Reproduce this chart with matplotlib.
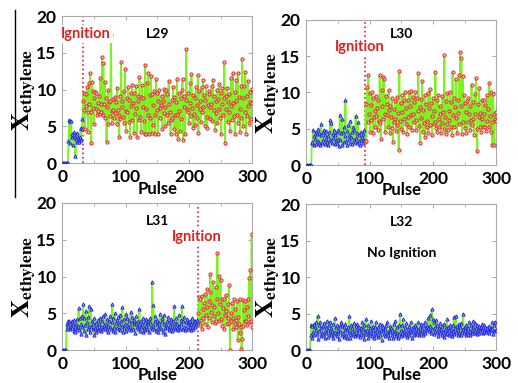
import numpy as np
import matplotlib
matplotlib.use("Agg")
import matplotlib.pyplot as plt
from matplotlib.lines import Line2D

plt.rcParams['font.family'] = ['Lato', 'DejaVu Sans']
plt.rcParams['font.weight'] = 'bold'
plt.rcParams['mathtext.fontset'] = 'stix'

# ---- data (X_ethylene per pulse) ----
l29_zero = 9
l29_vals = [3.0, 5.9, 5.8, 2.8, 5.7, 3.5, 4.0, 2.5, 3.8, 4.2, 3.6, 1.0, 3.3, 4.1, 2.9, 3.6, 3.2, 2.9, 3.5, 4.8, 3.1, 4.6, 6.0,
            8.5, 9.5, 7.2, 4.6, 9.4, 7.8, 10.3, 6.9, 4.3, 10.9,
            8.1, 12.3, 7.0, 2.7, 11.1, 7.5, 9.8, 5.3, 8.9, 9.7,
            7.4, 9.5, 6.6, 8.2, 7.1, 9.2, 6.7, 11.6, 6.9, 8.0,
            14.5, 6.6, 13.6, 8.0, 11.1, 6.2, 8.9, 2.9, 7.6, 9.9,
            5.3, 8.3, 6.4, 8.5, 17.4, 7.1, 5.4, 7.2, 8.7, 6.1,
            9.0, 6.8, 8.3, 5.3, 10.2, 7.2, 6.5, 3.6, 9.1, 6.0,
            13.7, 7.6, 8.4, 6.3, 9.8, 5.5, 12.8, 7.1, 4.4, 8.8,
            7.0, 10.3, 5.6, 8.6, 3.5, 9.5, 7.8, 10.6, 5.9, 8.2,
            4.1, 9.6, 6.7, 10.5, 7.5, 3.6, 9.2, 8.4, 5.9, 11.7,
            6.3, 9.0, 4.2, 10.6, 7.7, 8.9, 5.7, 3.9, 13.3, 7.3,
            4.0, 10.9, 6.5, 12.3, 3.9, 9.3, 6.2, 11.8, 4.1, 9.4,
            7.9, 5.2, 9.8, 6.6, 4.0, 11.4, 7.2, 9.6, 3.9, 8.4,
            10.0, 6.1, 7.5, 7.9, 9.2, 4.6, 8.5, 6.8, 10.1, 5.0,
            7.6, 10.0, 6.5, 9.4, 5.4, 11.2, 8.0, 7.0, 4.0, 5.9,
            8.6, 6.2, 10.4, 4.7, 9.0, 6.6, 3.9, 8.3, 11.5, 6.5,
            3.3, 9.5, 7.1, 4.4, 8.9, 6.0, 10.0, 11.5, 3.2, 9.1,
            7.7, 4.0, 8.6, 15.5, 7.3, 6.9, 9.6, 5.5, 8.2, 10.9,
            6.4, 12.1, 7.5, 4.8, 9.3, 6.7, 8.8, 5.2, 10.4, 7.9,
            6.2, 12.0, 4.1, 9.8, 7.4, 8.5, 5.6, 10.3, 6.9, 11.3,
            7.7, 9.3, 5.0, 8.6, 10.5, 6.3, 4.8, 7.9, 9.8, 9.4,
            6.0, 7.7, 8.1, 10.5, 5.7, 11.3, 7.2, 9.1, 4.5, 8.4,
            6.8, 9.9, 5.4, 8.7, 7.3, 10.8, 6.1, 9.6, 3.9, 8.0,
            10.2, 6.5, 8.9, 13.7, 2.8, 9.1, 7.4, 10.2, 5.6, 8.3,
            6.9, 9.4, 4.4, 11.6, 7.8, 5.9, 12.2, 8.2, 6.4, 9.7,
            3.9, 8.5, 11.3, 6.6, 12.3, 5.5, 9.0, 7.3, 4.3, 10.5,
            6.1, 14.1, 8.8, 5.0, 10.5, 7.0, 12.4, 3.9, 9.2, 6.4,
            11.2, 7.8, 5.5, 9.7, 8.3, 6.0, 10.1, 8.2]

l30_zero = 8
l30_vals = [3.0, 3.2, 4.9, 2.8, 4.0, 3.6, 4.6, 2.9, 4.3, 3.3,
            5.0, 3.1, 4.4, 2.7, 4.1, 5.7, 3.0, 4.6, 3.4, 4.8,
            2.9, 4.2, 3.6, 4.7, 3.2, 4.0, 2.8, 4.5, 3.5, 6.2,
            3.3, 5.8, 3.0, 4.3, 3.7, 4.9, 2.9, 4.1, 3.4, 4.5,
            3.1, 4.8, 3.6, 2.6, 6.9, 3.5, 4.4, 6.4, 2.7, 4.6,
            3.2, 5.2, 4.0, 8.9, 3.3, 4.7, 2.8, 5.5, 3.6, 4.2,
            3.0, 6.1, 3.8, 4.5, 2.9, 5.3, 3.4, 4.9, 3.2, 6.8,
            3.7, 4.4, 3.0, 5.9, 3.3, 4.1, 2.8, 4.6, 3.5, 3.9,
            3.0, 4.3, 3.4, 4.8,
            3.2, 8.4, 3.3, 10.8, 6.0, 12.4, 7.1, 9.9, 4.6, 8.3,
            6.2, 10.0, 4.4, 9.2, 6.6, 7.4, 5.2, 9.5, 6.8, 7.9,
            4.9, 9.0, 6.1, 12.4, 5.8, 3.6, 10.3, 8.2, 12.1, 6.3,
            11.8, 7.0, 4.6, 9.5, 6.9, 8.4, 5.3, 10.3, 7.6, 4.4,
            8.1, 6.6, 9.2, 5.1, 3.2, 7.7, 5.9, 8.8, 6.3, 4.7,
            9.4, 5.5, 7.2, 2.1, 12.9, 6.1, 8.5, 5.0, 9.6, 7.3,
            4.6, 8.9, 6.4, 10.1, 5.7, 7.8, 4.3, 9.0, 6.6, 10.0,
            5.2, 8.2, 6.9, 10.2, 4.8, 9.4, 7.1, 5.9, 8.7, 10.1,
            6.2, 4.9, 9.3, 7.5, 12.7, 5.4, 8.0, 3.0, 9.1, 6.5,
            11.6, 4.5, 7.6, 5.8, 9.7, 3.9, 8.4, 6.1, 5.3, 9.9,
            4.4, 7.9, 10.5, 5.5, 8.6, 6.8, 4.2, 9.2, 5.7, 7.5,
            6.0, 12.8, 5.1, 8.9, 4.6, 9.7, 6.3, 5.2, 8.1, 7.0,
            4.4, 9.5, 5.8, 7.3, 5.0, 15.1, 6.6, 4.3, 8.8, 5.6,
            9.9, 4.8, 7.4, 6.2, 10.1, 5.3, 8.7, 4.1, 12.8, 6.9,
            9.3, 5.2, 8.0, 11.9, 6.5, 4.4, 9.0, 7.2, 12.4, 5.6,
            15.6, 8.2, 14.8, 4.3, 12.3, 6.0, 9.6, 5.1, 8.5, 7.3,
            4.4, 8.8, 5.9, 9.3, 7.0, 4.9, 8.1, 6.2, 11.1, 5.5,
            8.7, 6.4, 4.2, 9.8, 7.1, 12.0, 5.0, 2.0, 8.4, 6.6,
            10.6, 5.3, 7.2, 4.6, 8.9, 6.3, 5.2, 9.0, 7.0, 5.3,
            8.3, 4.7, 9.6, 6.1, 7.7, 5.2, 11.3, 6.8, 4.5, 10.0,
            5.9, 2.8, 9.8, 7.1, 2.8, 6.4, 7.3, 6.1]

l31_zero = 6
l31_vals = [3.6, 2.8, 3.9, 3.3, 4.0, 2.9, 3.7, 3.2, 3.9, 3.0,
            3.5, 2.6, 4.1, 3.1, 2.4, 3.6, 2.9, 4.2, 3.3, 5.7,
            2.7, 4.4, 3.5, 2.2, 4.6, 3.1, 6.2, 2.6, 4.3, 3.4,
            5.3, 2.0, 3.8, 4.5, 2.9, 3.3, 6.0, 2.4, 5.6, 3.2,
            4.0, 2.8, 3.6, 2.1, 4.3, 3.0, 2.5, 3.7, 3.2, 4.1,
            2.7, 3.5, 2.9, 4.4, 3.1, 2.6, 3.9, 4.6, 2.8, 3.4,
            4.9, 3.0, 3.6, 2.7, 4.2, 3.3, 2.5, 4.0, 3.1, 4.7,
            2.9, 3.8, 6.2, 2.6, 4.4, 3.2, 5.0, 2.4, 3.7, 4.1,
            3.0, 4.5, 2.8, 3.5, 4.8, 2.7, 3.9, 3.3, 5.8, 2.5,
            4.2, 3.0, 3.6, 4.9, 2.6, 3.4, 4.4, 3.1, 2.8, 4.0,
            3.3, 5.2, 2.7, 3.8, 4.5, 2.9, 3.5, 4.1, 2.3, 3.7,
            4.6, 3.2, 2.8, 3.9, 3.4, 5.6, 2.6, 4.0, 3.1, 3.6,
            2.5, 4.3, 3.0, 3.8, 2.7, 4.2, 3.3, 2.9, 4.0, 3.5,
            2.4, 3.8, 4.4, 3.1, 2.8, 9.3, 3.4, 6.1, 2.9, 3.9,
            4.6, 2.6, 3.5, 4.1, 3.0, 2.4, 3.7, 4.9, 3.2, 2.8,
            3.9, 4.3, 2.5, 3.6, 4.8, 3.0, 2.2, 3.4, 4.0, 3.1,
            4.5, 2.7, 3.8, 3.3, 2.9, 4.2, 3.5, 2.6, 3.9, 3.2,
            6.0, 2.8, 3.7, 4.4, 3.0, 3.5, 2.7, 4.8, 3.3, 2.9,
            4.1, 3.6, 6.0, 2.8, 3.9, 4.5, 3.2, 2.7, 3.8, 3.0,
            4.2, 2.9, 3.5, 3.8, 3.1, 4.0, 2.7, 3.6, 4.3, 3.4,
            2.8, 3.9, 3.2, 4.0, 3.5, 3.8, 4.1, 3.7,
            5.0, 7.2, 3.4, 6.9, 4.1, 7.3, 2.8, 5.6, 4.3, 6.4,
            3.5, 7.6, 4.8, 5.9, 8.3, 3.2, 6.7, 4.4, 7.9, 10.3,
            5.2, 3.8, 6.1, 9.2, 4.6, 5.8, 3.7, 8.6, 4.0, 6.9,
            13.2, 5.1, 3.9, 10.1, 6.3, 9.5, 4.2, 7.0, 3.3, 5.7,
            6.9, 2.8, 4.8, 7.5, 5.3, 3.6, 6.2, 4.4, 8.8, 3.7,
            0.0, 5.0, 3.9, 6.4, 4.3, 2.9, 7.0, 3.5, 5.6, 4.1,
            3.2, 6.7, 1.4, 4.5, 3.6, 6.9, 2.3, 3.1, 0.1, 1.5,
            6.8, 3.3, 5.5, 3.9, 6.7, 4.0, 5.9, 3.4, 7.0, 4.6,
            9.8, 3.8, 10.9, 4.0, 15.8, 3.2]

l32_zero = 6
l32_vals = [2.1, 3.5, 1.6, 3.3, 2.5, 3.6, 2.0, 3.1, 2.7, 3.8,
            2.2, 4.7, 1.5, 3.4, 2.6, 3.9, 1.9, 3.0, 2.4, 3.3,
            2.0, 3.7, 2.6, 1.6, 3.2, 2.3, 4.0, 2.7, 1.8, 3.5,
            2.4, 3.9, 2.0, 3.0, 2.6, 1.7, 3.6, 2.2, 4.4, 2.5,
            3.1, 1.9, 3.4, 2.3, 2.8, 1.5, 3.3, 2.6, 3.8, 2.1,
            3.5, 2.4, 1.8, 3.1, 2.7, 3.6, 2.0, 2.9, 1.6, 3.2,
            2.5, 4.6, 2.2, 1.7, 3.4, 2.6, 3.0, 2.1, 3.7, 2.4,
            1.9, 3.3, 2.8, 2.2, 3.6, 2.0, 2.7, 3.2, 1.8, 3.0,
            2.4, 3.8, 2.1, 2.9, 1.5, 3.4, 2.6, 4.3, 2.2, 2.8,
            1.7, 3.5, 2.3, 3.0, 2.0, 4.0, 2.5, 1.9, 3.3, 2.7,
            1.6, 3.2, 2.4, 3.9, 2.1, 2.8, 1.8, 3.1, 2.5, 3.6,
            2.0, 2.7, 1.4, 3.4, 2.6, 3.1, 2.2, 2.9, 1.9, 3.5,
            2.4, 3.8, 2.0, 2.6, 1.7, 3.3, 2.5, 3.0, 2.1, 2.8,
            1.6, 3.6, 2.3, 4.0, 2.6, 1.9, 3.2, 2.4, 1.6, 3.4,
            2.2, 5.0, 2.7, 1.9, 3.5, 2.3, 4.2, 2.6, 2.0, 3.1,
            2.4, 3.7, 1.8, 2.9, 2.3, 3.3, 2.0, 2.7, 3.9, 2.5,
            1.7, 3.2, 2.6, 2.9, 2.1, 3.5, 2.4, 3.0, 2.2, 3.8,
            2.7, 2.0, 3.1, 2.5, 3.6, 2.3, 2.9, 2.1, 3.4, 2.6,
            3.9, 2.4, 3.2, 2.8, 3.3, 3.0, 4.4, 2.6, 4.8, 3.3,
            2.4, 5.6, 2.9, 4.2, 2.2, 3.8, 2.6, 3.1, 4.1, 2.5,
            3.4, 1.9, 3.0, 2.6, 3.7, 2.3, 2.9, 2.0, 3.3, 2.5,
            1.8, 3.6, 2.7, 2.2, 3.0, 4.2, 2.4, 3.2, 2.0, 2.8,
            3.5, 2.3, 2.9, 1.9, 3.4, 2.6, 4.5, 2.2, 3.0, 4.7,
            2.5, 3.3, 2.1, 2.8, 3.6, 2.4, 3.1, 2.0, 3.7, 2.6,
            2.9, 5.0, 2.3, 3.2, 2.7, 2.0, 3.5, 2.5, 3.0, 2.2,
            3.9, 2.6, 2.1, 3.4, 2.8, 2.4, 3.1, 4.0, 2.3, 3.7,
            2.6, 3.0, 2.2, 3.5, 2.7, 3.3, 2.4, 2.9, 2.6, 3.1,
            2.8, 3.6, 2.3, 3.4, 2.5, 2.9, 3.2, 2.5, 2.7, 3.0,
            2.6, 3.3, 2.4, 2.8, 3.0, 2.7, 2.9, 3.8, 2.2, 3.4,
            2.6, 3.9, 2.8, 2.7]

panels = [
    ("L29", l29_zero, l29_vals, 33, (37, 17.6)),
    ("L30", l30_zero, l30_vals, 93, (85, 16.3)),
    ("L31", l31_zero, l31_vals, 215, (212, 15.4)),
    ("L32", l32_zero, l32_vals, None, None),
]

positions = [
    [0.120, 0.574, 0.367, 0.384],
    [0.591, 0.569, 0.367, 0.379],
    [0.120, 0.086, 0.367, 0.384],
    [0.591, 0.086, 0.367, 0.381],
]

fig = plt.figure(figsize=(5.18, 3.83), dpi=100)
green = "#7cf21e"
red = "#dd2222"

for (name, nzero, vals, ign, txt), pos in zip(panels, positions):
    ax = fig.add_axes(pos)
    y = np.array([0.0] * nzero + vals)
    x = np.arange(1, len(y) + 1)
    ax.plot(x, y, color=green, lw=1.3, zorder=2)
    cut = ign if ign is not None else 10**6
    pre = x < cut
    ax.plot(x[pre], y[pre], ls='none', marker='^', ms=2.3, mec='#2222ee',
            mfc='#c8d0ff', mew=0.7, zorder=3)
    if ign is not None:
        ax.plot(x[~pre], y[~pre], ls='none', marker='o', ms=2.3, mec='#e02828',
                mfc='#fbc0c0', mew=0.7, zorder=3)
        ax.axvline(ign, color=red, ls=':', lw=1.2, zorder=1)
        ax.text(txt[0], txt[1], "Ignition", color=red, fontsize=10.5, fontweight='bold',
                ha='center', va='center', zorder=4,
                bbox=dict(facecolor='white', edgecolor='none', pad=1.5))
    else:
        ax.text(150, 13.3, "No Ignition", fontsize=10, fontweight='bold',
                ha='center', va='center')
    ax.text(150, 17.6 if name != "L30" else 18.0, name, fontsize=10, fontweight='bold',
            ha='center', va='center')

    ax.set_xlim(0, 300)
    ax.set_ylim(0, 20)
    ax.set_xticks([0, 100, 200, 300])
    ax.set_xticks([50, 150, 250], minor=True)
    ax.set_yticks([0, 5, 10, 15, 20])
    ax.tick_params(direction='in', top=True, right=True, length=3, width=0.6,
                   color='#999999', labelsize=12.5, pad=4)
    ax.tick_params(which='minor', direction='in', top=True, length=2, width=0.5,
                   color='#999999')
    for lbl in ax.get_xticklabels() + ax.get_yticklabels():
        lbl.set_fontweight('bold')
    for sp in ax.spines.values():
        sp.set_color('#aaaaaa')
        sp.set_linewidth(0.8)
    ax.set_xlabel("Pulse", fontsize=12, fontweight='bold', labelpad=-3)
    ax.set_ylabel(r'$\mathbf{X}_{\mathrm{ethylene}}$', fontsize=18, labelpad=-1)

fig.add_artist(Line2D([0.029, 0.029], [0.486, 0.974], color='black', lw=1.0))

fig.savefig("out.png", dpi=100)
